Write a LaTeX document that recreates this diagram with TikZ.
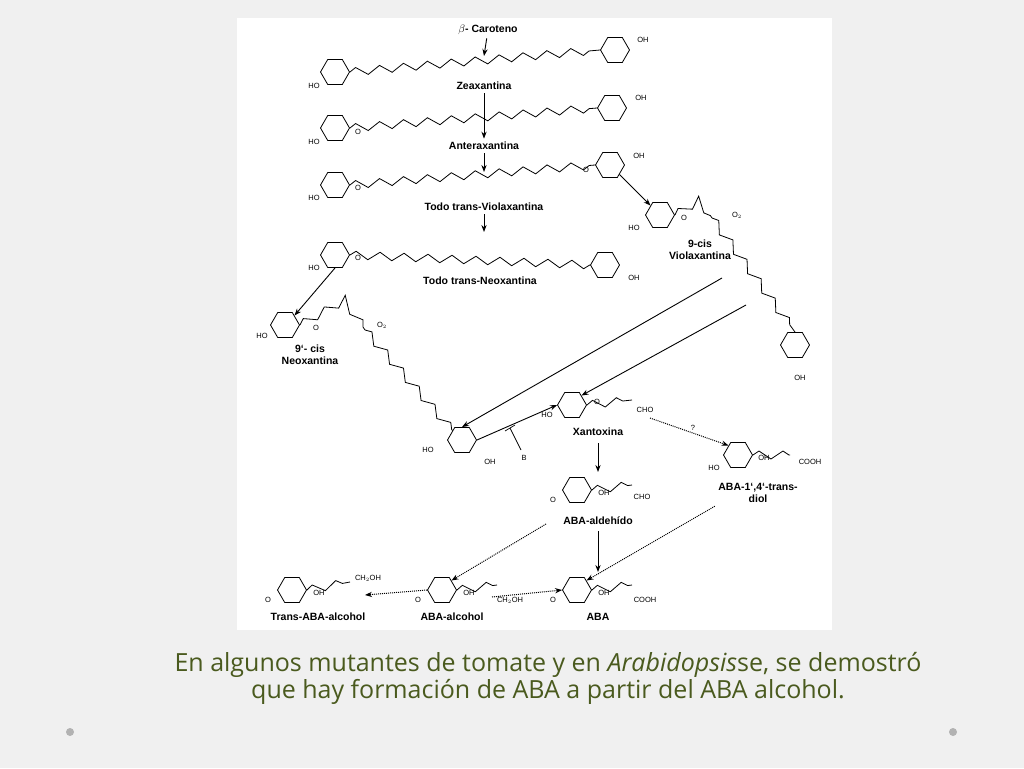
\documentclass[tikz,border=0pt]{standalone}
\usepackage{fontspec}
\setmainfont{Liberation Sans}
\newfontfamily\capfont{Open Sans}
\usetikzlibrary{arrows.meta,shapes.geometric,decorations.pathmorphing}
\definecolor{capgreen}{HTML}{4A5A1E}
\begin{document}
\begin{tikzpicture}[x=1pt,y=-1pt,
  ring/.style={regular polygon,regular polygon sides=6,draw,minimum size=29pt,inner sep=0pt,line width=0.8pt},
  chain/.style={decorate,decoration={zigzag,segment length=24pt,amplitude=4pt},line width=0.8pt},
  lbl/.style={font=\bfseries\fontsize{10.5}{12}\selectfont,align=center},
  sub/.style={font=\fontsize{7.5}{8}\selectfont,inner sep=1pt},
  ar/.style={-{Stealth[length=7pt]},line width=0.9pt},
  dot/.style={-{Stealth[length=7pt]},line width=1pt,densely dotted}]
  % slide
  \fill[gray!12] (0,0) rectangle (1024,768);
  \fill[white] (237,18) rectangle (832,630);
  \fill[gray!60] (70,732) circle (4);
  \fill[gray!60] (953,732) circle (4);
  \node[font=\capfont\fontsize{25}{27}\selectfont,text=capgreen,align=center] (cap) at (548,678)
    {En algunos mutantes de tomate y en \textit{Arabidopsis}se, se demostró\\que hay formación de ABA a partir del ABA alcohol.};

  % carotenoides
  \node[ring] (c1) at (335,72) {};
  \node[ring] (c2) at (615,50) {};
  \draw[chain] (c1.east) -- (c2.west);
  \node[sub] at (314,86) {HO};
  \node[sub] at (643,40) {OH};
  \node[lbl] (car) at (488,30) {$\beta$- Caroteno};
  \node[lbl] (zea) at (484,86) {Zeaxantina};
  \node[ring] (z1) at (335,128) {};
  \node[ring] (z2) at (612,108) {};
  \draw[chain] (z1.east) -- (z2.west);
  \node[sub] at (314,142) {HO};
  \node[sub] at (641,98) {OH};
  \node[sub] at (358,132) {O};
  \node[lbl] (ant) at (484,146) {Anteraxantina};
  \node[ring] (a1) at (335,185) {};
  \node[ring] (a2) at (610,165) {};
  \draw[chain] (a1.east) -- (a2.west);
  \node[sub] at (314,198) {HO};
  \node[sub] at (639,156) {OH};
  \node[sub] at (358,188) {O};
  \node[sub] at (586,170) {O};
  \node[lbl] (tvi) at (484,207) {Todo trans-Violaxantina};
  \node[ring] (n1) at (335,255) {};
  \node[ring] (n2) at (605,265) {};
  \draw[chain] (n1.east) -- (n2.west);
  \node[sub] at (314,268) {HO};
  \node[sub] at (634,278) {OH};
  \node[sub] at (358,258) {O};
  \node[lbl] (tne) at (480,281) {Todo trans-Neoxantina};
  \draw[ar] (car) -- (484,56);
  \draw[ar] (zea) -- (ant.north);
  \draw[ar] (ant) -- (484,172);
  \draw[ar] (tvi) -- (484,232);

  % 9-cis
  \node[ring] (v1) at (660,215) {};
  \coordinate (vk) at (712,218);
  \node[ring] (v2) at (795,345) {};
  \draw[chain] (v1.east) -- (700,200) -- (vk);
  \draw[chain] (vk) -- (v2.north);
  \node[sub] at (634,228) {HO};
  \node[sub] at (684,218) {O};
  \node[sub] at (737,215) {O$_2$};
  \node[sub] at (800,378) {OH};
  \node[lbl] (vio) at (700,250) {9-cis\\Violaxantina};
  \draw[ar] (a2.south east) -- (v1.north west);
  \node[ring] (m1) at (285,325) {};
  \node[ring] (m2) at (462,440) {};
  \draw[chain] (m1.east) -- (345,300) -- (365,330);
  \draw[chain] (365,330) -- (m2.north west);
  \node[sub] at (262,336) {HO};
  \node[sub] at (316,328) {O};
  \node[sub] at (382,325) {O$_2$};
  \node[sub] at (428,450) {HO};
  \node[sub] at (490,462) {OH};
  \node[lbl] (neo) at (310,355) {9`- cis\\Neoxantina};
  \draw[ar] (n1.south) -- (m1.north east);

  % xantoxina
  \node[ring] (x) at (572,405) {};
  \coordinate (xe) at (632,400);
  \draw[chain] (x.east) -- (xe);
  \node[sub] at (547,415) {HO};
  \node[sub] at (597,402) {O};
  \node[sub] at (645,410) {CHO};
  \node[lbl] (xan) at (598,432) {Xantoxina};
  \draw[ar] (722,278) -- (m2.north);
  \draw[ar] (746,305) -- (x.north east);
  \draw[ar] (m2.east) -- (x.west);
  \draw[line width=0.7pt] (521,450) -- (510,428) (505,431) -- (515,425);
  \node[sub] at (524,458) {B};

  % ABA
  \node[ring] (d) at (738,455) {};
  \draw[chain] (d.east) -- (790,455);
  \node[sub] at (714,468) {HO};
  \node[sub] at (764,458) {OH};
  \node[sub] at (810,462) {COOH};
  \node[lbl] (dio) at (758,493) {ABA-1`,4`-trans-\\diol};
  \draw[dot] (650,418) -- (d.north west);
  \node[sub] at (693,428) {?};
  \node[ring] (h) at (577,490) {};
  \draw[chain] (h.east) -- (632,485);
  \node[sub] at (553,500) {O};
  \node[sub] at (604,493) {OH};
  \node[sub] at (642,497) {CHO};
  \node[lbl] (ald) at (598,521) {ABA-aldehído};
  \draw[ar] (598,443) -- (598,472);
  \node[ring] (b) at (577,590) {};
  \draw[chain] (b.east) -- (632,585);
  \node[sub] at (553,600) {O};
  \node[sub] at (604,593) {OH};
  \node[sub] at (645,600) {COOH};
  \node[lbl] (aba) at (598,617) {ABA};
  \draw[ar] (598,531) -- (598,572);
  \draw[dot] (dio.south west) -- (b.north east);
  \node[ring] (l) at (442,590) {};
  \draw[chain] (l.east) -- (497,585);
  \node[sub] at (418,600) {O};
  \node[sub] at (469,593) {OH};
  \node[sub] at (510,600) {CH$_2$OH};
  \node[lbl] (alc) at (452,617) {ABA-alcohol};
  \draw[dot] (546,524) -- (l.north east);
  \draw[dot] (492,597) -- (b.west);
  \node[ring] (t) at (292,590) {};
  \draw[chain] (t.east) -- (350,582);
  \node[sub] at (268,600) {O};
  \node[sub] at (319,593) {OH};
  \node[sub] at (368,578) {CH$_2$OH};
  \node[lbl] (tra) at (318,617) {Trans-ABA-alcohol};
  \draw[dot] (l.west) -- (365,595);
\end{tikzpicture}
\end{document}
